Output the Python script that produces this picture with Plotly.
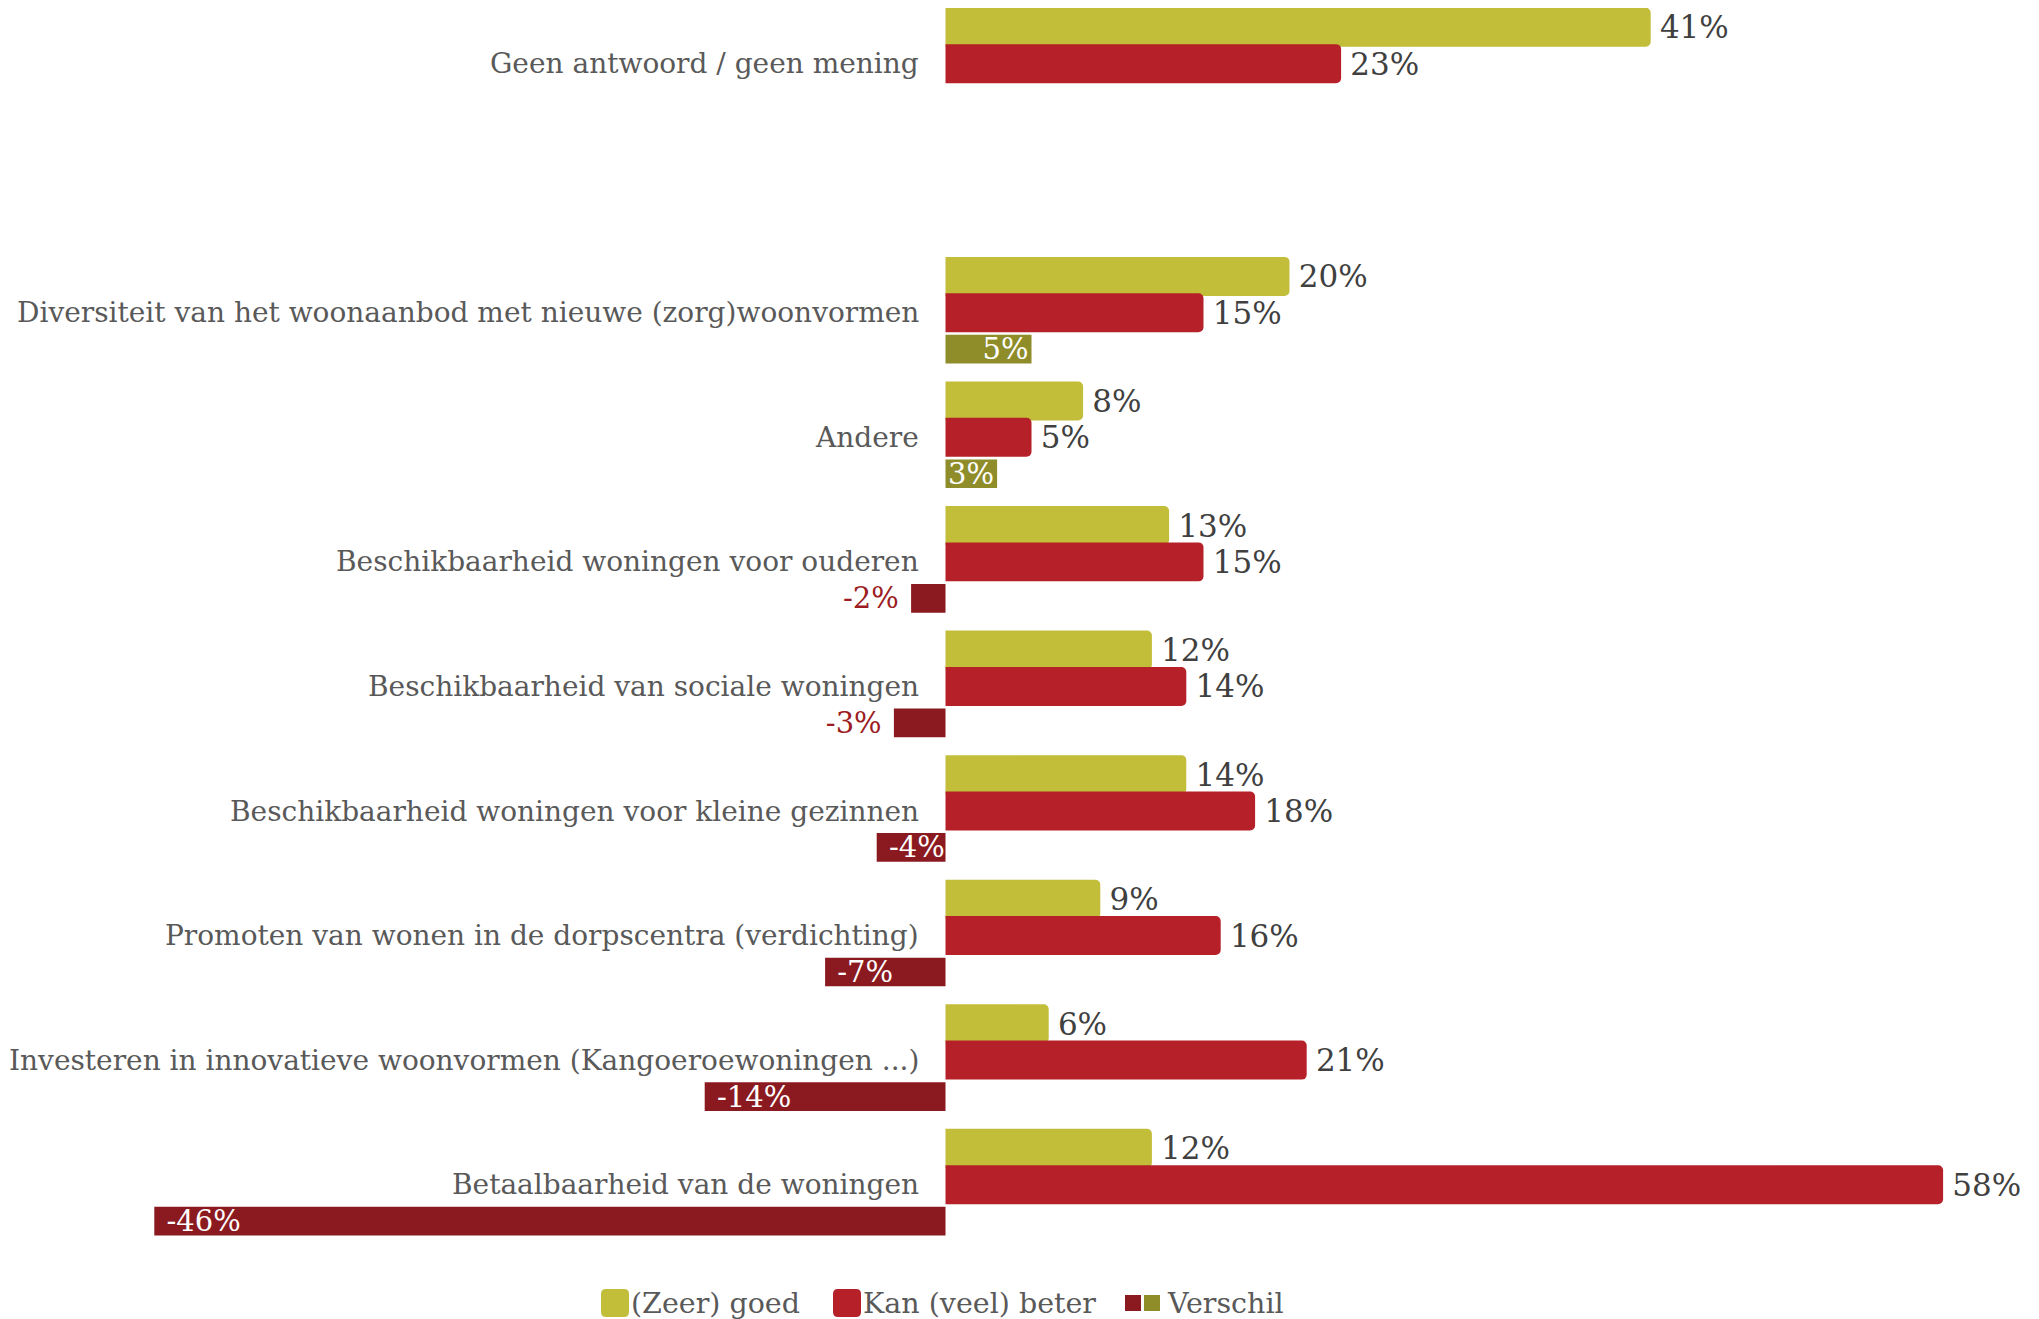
import plotly.graph_objects as go

# ---------------- data ----------------
CATEGORIES = [
    "Geen antwoord / geen mening",
    "\u00a0",
    "Diversiteit van het woonaanbod met nieuwe (zorg)woonvormen",
    "Andere",
    "Beschikbaarheid woningen voor ouderen",
    "Beschikbaarheid van sociale woningen",
    "Beschikbaarheid woningen voor kleine gezinnen",
    "Promoten van wonen in de dorpscentra (verdichting)",
    "Investeren in innovatieve woonvormen (Kangoeroewoningen ...)",
    "Betaalbaarheid van de woningen",
]
GOED = [41, None, 20, 8, 13, 12, 14, 9, 6, 12]
BETER = [23, None, 15, 5, 15, 14, 18, 16, 21, 58]
VERSCHIL = [None, None, 5, 3, -2, -3, -4, -7, -14, -46]

SERIES_NAMES = ["(Zeer) goed", "Kan (veel) beter", "Verschil"]

# ---------------- style ----------------
PAGE_OFF = 8                      # default body margin of the page
W, H = 2039 - PAGE_OFF, 1319 - PAGE_OFF
FONT = "DejaVu Serif"
YELLOW = "#C2BE3A"
RED = "#B52029"
DIFF_NEG = "#8A1A1F"
DIFF_POS = "#8F8C2A"
LABEL_GRAY = "#595959"
VALUE_GRAY = "#404040"
OUT_RED = "#9B1C22"

PX_PER_UNIT = 17.2
ZERO_PX = 945.5 - PAGE_OFF
X_RANGE = [-ZERO_PX / PX_PER_UNIT, (W - ZERO_PX) / PX_PER_UNIT]

ROW_PX = 124.56
FIRST_ROW_PX = 63.7 - PAGE_OFF
PLOT_BOTTOM = 1247 - PAGE_OFF
Y_TOP = -FIRST_ROW_PX / ROW_PX
Y_BOTTOM = (PLOT_BOTTOM - FIRST_ROW_PX) / ROW_PX

THIN = "\u2009"
NBSP = "\u00a0"


def pct(v):
    return f"{v}%"


goed_text = [THIN + pct(v) if v is not None else "" for v in GOED]
beter_text = [THIN + pct(v) if v is not None else "" for v in BETER]

diff_colors = [DIFF_NEG if (v is not None and v < 0) else DIFF_POS for v in VERSCHIL]
diff_textpos = ["outside" if (v is not None and -4 < v < 0) else "inside" for v in VERSCHIL]
diff_text = []
for v, pos in zip(VERSCHIL, diff_textpos):
    if v is None:
        diff_text.append("")
    elif pos == "outside":
        diff_text.append(pct(v) + NBSP)
    elif v < 0:
        diff_text.append(NBSP + pct(v))
    else:
        diff_text.append(pct(v))

fig = go.Figure()

fig.add_trace(go.Bar(
    y=CATEGORIES, x=GOED, orientation="h", name=SERIES_NAMES[0],
    marker=dict(color=YELLOW, cornerradius=5, line=dict(width=0)),
    offset=-0.449, width=0.313,
    text=goed_text, texttemplate="%{text}", textposition="outside", constraintext="none",
    textfont=dict(family=FONT, size=31, color=VALUE_GRAY),
    cliponaxis=False, hoverinfo="skip", showlegend=False,
))
fig.add_trace(go.Bar(
    y=CATEGORIES, x=BETER, orientation="h", name=SERIES_NAMES[1],
    marker=dict(color=RED, cornerradius=5, line=dict(width=0)),
    offset=-0.157, width=0.313,
    text=beter_text, texttemplate="%{text}", textposition="outside", constraintext="none",
    textfont=dict(family=FONT, size=31, color=VALUE_GRAY),
    cliponaxis=False, hoverinfo="skip", showlegend=False,
))
fig.add_trace(go.Bar(
    y=CATEGORIES, x=VERSCHIL, orientation="h", name=SERIES_NAMES[2],
    marker=dict(color=diff_colors, line=dict(width=0)),
    offset=0.177, width=0.23,
    text=diff_text, texttemplate="%{text}", textposition=diff_textpos, constraintext="none",
    insidetextanchor="end",
    insidetextfont=dict(family=FONT, size=29, color="white"),
    outsidetextfont=dict(family=FONT, size=29, color=OUT_RED),
    cliponaxis=False, hoverinfo="skip", showlegend=False,
))

# category labels next to the zero line
annotations = []
for cat in CATEGORIES:
    if cat.strip():
        annotations.append(dict(
            x=0, y=cat, xref="x", yref="y", text=cat, showarrow=False,
            xanchor="right", yanchor="middle", xshift=-25,
            font=dict(family=FONT, size=28, color=LABEL_GRAY),
        ))

# ---------------- manual legend ----------------
def px_x(px):
    return (px - PAGE_OFF) / W


def px_y(py):
    return (PLOT_BOTTOM - (py - PAGE_OFF)) / PLOT_BOTTOM


def rounded_square(size, r):
    s = size
    return (f"M {r},0 L {s-r},0 Q {s},0 {s},{r} L {s},{s-r} Q {s},{s} {s-r},{s} "
            f"L {r},{s} Q 0,{s} 0,{s-r} L 0,{r} Q 0,0 {r},0 Z")


shapes = []
LEG_Y = 1303
legend_items = [
    # (square left px, size, radius, colour) in reference pixels
    (601, 28, 5, YELLOW),
    (833, 28, 5, RED),
    (1125, 16, 0, DIFF_NEG),
    (1144, 16, 0, DIFF_POS),
]
for left, size, r, col in legend_items:
    shapes.append(dict(
        type="path", xref="paper", yref="paper",
        xsizemode="pixel", ysizemode="pixel",
        xanchor=px_x(left), yanchor=px_y(LEG_Y + size / 2),
        path=rounded_square(size, r) if r else f"M 0,0 L {size},0 L {size},{size} L 0,{size} Z",
        fillcolor=col, line=dict(width=0), layer="above",
    ))
legend_texts = [(629, SERIES_NAMES[0]), (861, SERIES_NAMES[1]), (1165, SERIES_NAMES[2])]
for left, txt in legend_texts:
    annotations.append(dict(
        x=px_x(left), y=px_y(LEG_Y), xref="paper", yref="paper", text=txt,
        showarrow=False, xanchor="left", yanchor="middle",
        font=dict(family=FONT, size=28.5, color=LABEL_GRAY),
    ))

fig.update_layout(
    width=W, height=H,
    margin=dict(l=0, r=0, t=0, b=H - PLOT_BOTTOM, pad=0),
    paper_bgcolor="white", plot_bgcolor="white",
    barmode="overlay",
    showlegend=False,
    xaxis=dict(range=X_RANGE, visible=False, showgrid=False, zeroline=False, fixedrange=True),
    yaxis=dict(type="category", categoryorder="array", categoryarray=CATEGORIES,
               range=[Y_BOTTOM, Y_TOP], visible=False, showgrid=False,
               zeroline=False, fixedrange=True),
    annotations=annotations,
    shapes=shapes,
    font=dict(family=FONT),
)

fig.write_html("out.html")
